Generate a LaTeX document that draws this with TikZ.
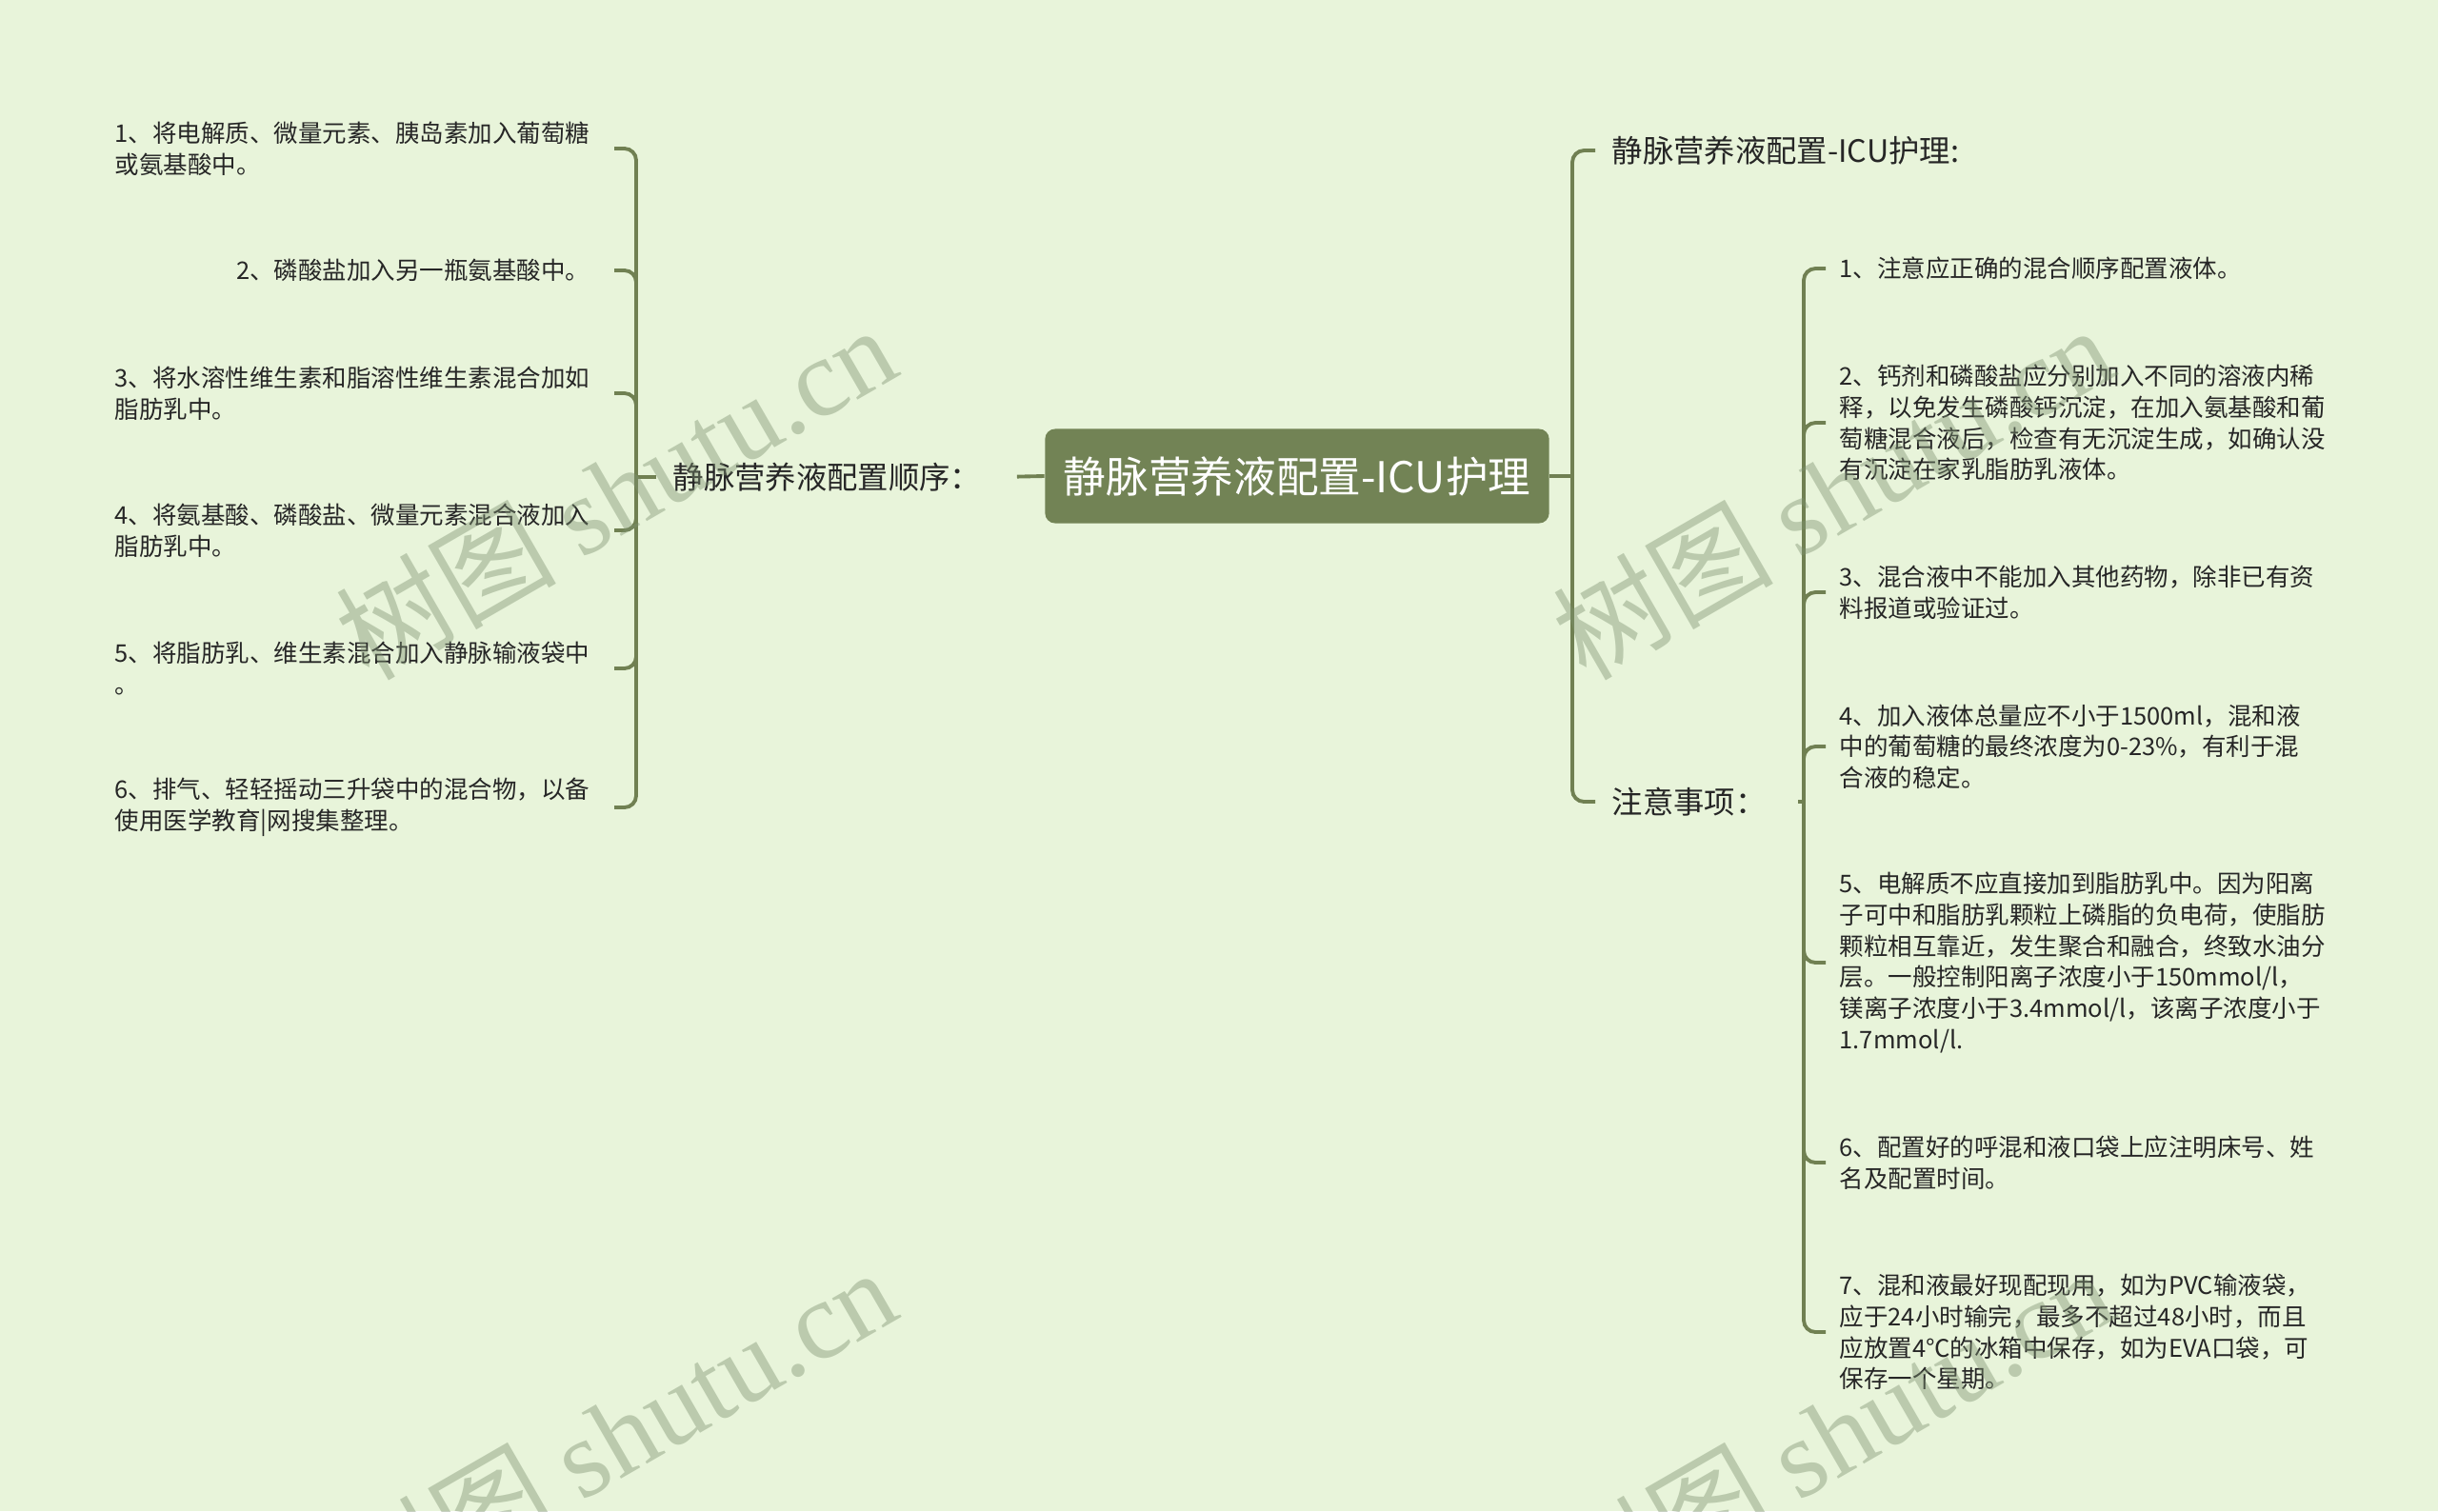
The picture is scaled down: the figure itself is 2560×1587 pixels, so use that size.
\documentclass[tikz,border=0pt]{standalone}
\usepackage{fontspec}
\setmainfont{Noto Sans CJK SC}
\newfontfamily\wmlatin{Liberation Serif}
\RequirePackage{xcolor}
\definecolor{mapbg}{RGB}{232,244,218}
\definecolor{branch}{RGB}{112,128,82}
\definecolor{rootfill}{RGB}{114,131,85}
\definecolor{ink}{RGB}{38,38,38}
\definecolor{wmark}{RGB}{125,145,112}
\usetikzlibrary{calc}
\usetikzlibrary{positioning}

\begin{document}
\begin{tikzpicture}[x=0.01cm, y=-0.01cm,
  link/.style={draw=branch, line width=1.1pt, rounded corners=3.5pt},
  root/.style={fill=rootfill, text=white, rounded corners=3pt, minimum width=5.29cm, minimum height=0.99cm, font=\fontsize{12.7pt}{15pt}\selectfont},
  topic/.style={text=ink, inner xsep=0.17cm, inner ysep=2pt, font=\fontsize{9.2pt}{11pt}\selectfont},
  leaf/.style={text=ink, align=left, inner xsep=0.14cm, inner ysep=2pt, font=\fontsize{7.25pt}{9.3pt}\selectfont},
  wm/.style={text=wmark, text opacity=0.42, rotate=30, font=\fontsize{33pt}{38pt}\selectfont}]

  \useasboundingbox (0,0) rectangle (2560,1587);
  \fill[mapbg] (0,0) rectangle (2560,1587);
  \clip (0,0) rectangle (2560,1587);

  \node[root] (root) at (1362,500) {静脉营养液配置-ICU护理};

  % left branch
  \node[topic, anchor=west] (order) at (689,501) {静脉营养液配置顺序：};
  \coordinate (ljn) at (668,501);
  \draw[link, shorten >=0.2cm] (root.west) -- (order.east);
  \draw[link] (order.west) -- (ljn);

  \foreach \nm/\yy/\txt in {l1/156/{1、将电解质、微量元素、胰岛素加入葡萄糖\\或氨基酸中。},
      l2/284/{2、磷酸盐加入另一瓶氨基酸中。},
      l3/413/{3、将水溶性维生素和脂溶性维生素混合加如\\脂肪乳中。},
      l4/557/{4、将氨基酸、磷酸盐、微量元素混合液加入\\脂肪乳中。},
      l5/702/{5、将脂肪乳、维生素混合加入静脉输液袋中\\。},
      l6/848/{6、排气、轻轻摇动三升袋中的混合物，以备\\使用医学教育|网搜集整理。}} {
    \node[leaf, inner xsep=0.25cm, anchor=east] (\nm) at (645,\yy) {\txt};
    \draw[link] (ljn) |- (\nm.east);
  }

  % right branch
  \coordinate (rjn) at (1651,500);
  \draw[link] (root.east) -- (rjn);
  \node[topic, anchor=west] (title) at (1675,158) {静脉营养液配置-ICU护理:};
  \node[topic, anchor=west] (note) at (1675,842) {注意事项：};
  \draw[link] (rjn) |- (title.west);
  \draw[link] (rjn) |- (note.west);
  \coordinate (njn) at (1894,842);
  \draw[link, shorten <=0.16cm] (note.east) -- (njn);

  \foreach \nm/\yy/\txt in {r1/282/{1、注意应正确的混合顺序配置液体。},
      r2/444/{2、钙剂和磷酸盐应分别加入不同的溶液内稀\\释，以免发生磷酸钙沉淀，在加入氨基酸和葡\\萄糖混合液后，检查有无沉淀生成，如确认没\\有沉淀在家乳脂肪乳液体。},
      r3/622/{3、混合液中不能加入其他药物，除非已有资\\料报道或验证过。},
      r4/784/{4、加入液体总量应不小于1500ml，混和液\\中的葡萄糖的最终浓度为0-23\%，有利于混\\合液的稳定。},
      r5/1011/{5、电解质不应直接加到脂肪乳中。因为阳离\\子可中和脂肪乳颗粒上磷脂的负电荷，使脂肪\\颗粒相互靠近，发生聚合和融合，终致水油分\\层。一般控制阳离子浓度小于150mmol/l，\\镁离子浓度小于3.4mmol/l，该离子浓度小于\\1.7mmol/l.},
      r6/1221/{6、配置好的呼混和液口袋上应注明床号、姓\\名及配置时间。},
      r7/1399/{7、混和液最好现配现用，如为PVC输液袋，\\应于24小时输完，最多不超过48小时，而且\\应放置4℃的冰箱中保存，如为EVA口袋，可\\保存一个星期。}} {
    \node[leaf, anchor=west] (\nm) at (1917,\yy) {\txt};
    \draw[link] (njn) |- (\nm.west);
  }

  % watermarks
  \foreach \wx/\wy [count=\i] in {646/516,1924/516,646/1506,1924/1506} {
    \node[wm] (wm\i) at (\wx,\wy) {树图 {\wmlatin shutu.cn}};
  }
\end{tikzpicture}
\end{document}
